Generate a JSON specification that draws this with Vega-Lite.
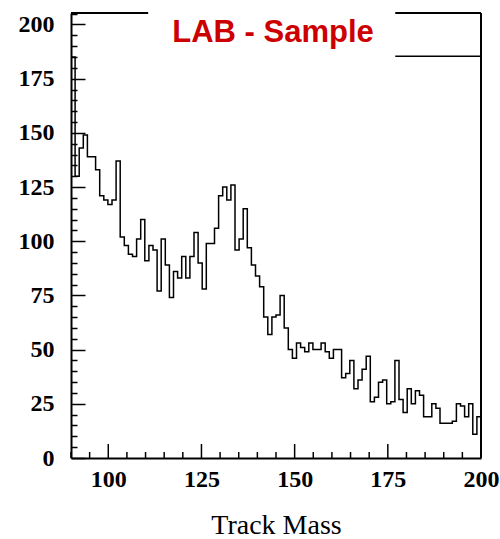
{
  "$schema": "https://vega.github.io/schema/vega-lite/v6.json",
  "width": 410,
  "height": 445,
  "autosize": {"type": "none"},
  "padding": {"left": 71, "top": 13, "right": 19, "bottom": 81},
  "background": "white",
  "view": {"stroke": null},
  "title": {
    "text": "LAB - Sample",
    "color": "#cc0000",
    "font": "Liberation Sans",
    "fontWeight": "bold",
    "fontSize": 31,
    "anchor": "middle",
    "orient": "top",
    "baseline": "alphabetic",
    "offset": -71,
    "dx": -3
  },
  "config": {
    "axis": {
      "gridColor": "black",
      "gridOpacity": 1,
      "gridWidth": 1.5,
      "domainColor": "black",
      "domainWidth": 2,
      "labelFont": "Liberation Serif",
      "labelFontWeight": "bold",
      "labelFontSize": 24,
      "labelColor": "black",
      "labelFlush": false,
      "labelOverlap": false,
      "titleFont": "Liberation Serif",
      "titleFontWeight": "normal",
      "titleFontSize": 28,
      "titleColor": "black"
    }
  },
  "resolve": {"axis": {"x": "independent", "y": "independent"}},
  "data": {
    "values": [
      {"lo": 90, "hi": 91.1, "n": 185},
      {"lo": 91.1, "hi": 92.2, "n": 130},
      {"lo": 92.2, "hi": 93.3, "n": 143},
      {"lo": 93.3, "hi": 94.4, "n": 149},
      {"lo": 94.4, "hi": 95.5, "n": 139},
      {"lo": 95.5, "hi": 96.6, "n": 139},
      {"lo": 96.6, "hi": 97.7, "n": 133},
      {"lo": 97.7, "hi": 98.8, "n": 121},
      {"lo": 98.8, "hi": 99.9, "n": 119},
      {"lo": 99.9, "hi": 101, "n": 117},
      {"lo": 101, "hi": 102.1, "n": 119},
      {"lo": 102.1, "hi": 103.2, "n": 137},
      {"lo": 103.2, "hi": 104.3, "n": 102},
      {"lo": 104.3, "hi": 105.4, "n": 98},
      {"lo": 105.4, "hi": 106.5, "n": 94},
      {"lo": 106.5, "hi": 107.6, "n": 93},
      {"lo": 107.6, "hi": 108.7, "n": 101},
      {"lo": 108.7, "hi": 109.8, "n": 110},
      {"lo": 109.8, "hi": 110.9, "n": 91},
      {"lo": 110.9, "hi": 112, "n": 98},
      {"lo": 112, "hi": 113.1, "n": 96},
      {"lo": 113.1, "hi": 114.2, "n": 77},
      {"lo": 114.2, "hi": 115.3, "n": 101},
      {"lo": 115.3, "hi": 116.4, "n": 89},
      {"lo": 116.4, "hi": 117.5, "n": 74},
      {"lo": 117.5, "hi": 118.6, "n": 86},
      {"lo": 118.6, "hi": 119.7, "n": 83},
      {"lo": 119.7, "hi": 120.8, "n": 93},
      {"lo": 120.8, "hi": 121.9, "n": 83},
      {"lo": 121.9, "hi": 123, "n": 93},
      {"lo": 123, "hi": 124.1, "n": 104},
      {"lo": 124.1, "hi": 125.2, "n": 90},
      {"lo": 125.2, "hi": 126.3, "n": 78},
      {"lo": 126.3, "hi": 127.4, "n": 99},
      {"lo": 127.4, "hi": 128.5, "n": 99},
      {"lo": 128.5, "hi": 129.6, "n": 106},
      {"lo": 129.6, "hi": 130.7, "n": 121},
      {"lo": 130.7, "hi": 131.8, "n": 125},
      {"lo": 131.8, "hi": 132.9, "n": 119},
      {"lo": 132.9, "hi": 134, "n": 126},
      {"lo": 134, "hi": 135.1, "n": 96},
      {"lo": 135.1, "hi": 136.2, "n": 101},
      {"lo": 136.2, "hi": 137.3, "n": 115},
      {"lo": 137.3, "hi": 138.4, "n": 97},
      {"lo": 138.4, "hi": 139.5, "n": 89},
      {"lo": 139.5, "hi": 140.6, "n": 84},
      {"lo": 140.6, "hi": 141.7, "n": 79},
      {"lo": 141.7, "hi": 142.8, "n": 65},
      {"lo": 142.8, "hi": 143.9, "n": 57},
      {"lo": 143.9, "hi": 145, "n": 65},
      {"lo": 145, "hi": 146.1, "n": 66},
      {"lo": 146.1, "hi": 147.2, "n": 75},
      {"lo": 147.2, "hi": 148.3, "n": 60},
      {"lo": 148.3, "hi": 149.4, "n": 50},
      {"lo": 149.4, "hi": 150.5, "n": 46},
      {"lo": 150.5, "hi": 151.6, "n": 53},
      {"lo": 151.6, "hi": 152.7, "n": 51},
      {"lo": 152.7, "hi": 153.8, "n": 49},
      {"lo": 153.8, "hi": 154.9, "n": 53},
      {"lo": 154.9, "hi": 156, "n": 50},
      {"lo": 156, "hi": 157.1, "n": 50},
      {"lo": 157.1, "hi": 158.2, "n": 53},
      {"lo": 158.2, "hi": 159.3, "n": 49},
      {"lo": 159.3, "hi": 160.4, "n": 46},
      {"lo": 160.4, "hi": 161.5, "n": 50},
      {"lo": 161.5, "hi": 162.6, "n": 50},
      {"lo": 162.6, "hi": 163.7, "n": 37},
      {"lo": 163.7, "hi": 164.8, "n": 39},
      {"lo": 164.8, "hi": 165.9, "n": 45},
      {"lo": 165.9, "hi": 167, "n": 32},
      {"lo": 167, "hi": 168.1, "n": 36},
      {"lo": 168.1, "hi": 169.2, "n": 41},
      {"lo": 169.2, "hi": 170.3, "n": 47},
      {"lo": 170.3, "hi": 171.4, "n": 26},
      {"lo": 171.4, "hi": 172.5, "n": 28},
      {"lo": 172.5, "hi": 173.6, "n": 35},
      {"lo": 173.6, "hi": 174.7, "n": 36},
      {"lo": 174.7, "hi": 175.8, "n": 25},
      {"lo": 175.8, "hi": 176.9, "n": 26},
      {"lo": 176.9, "hi": 178, "n": 45},
      {"lo": 178, "hi": 179.1, "n": 27},
      {"lo": 179.1, "hi": 180.2, "n": 21},
      {"lo": 180.2, "hi": 181.3, "n": 32},
      {"lo": 181.3, "hi": 182.4, "n": 25},
      {"lo": 182.4, "hi": 183.5, "n": 31},
      {"lo": 183.5, "hi": 184.6, "n": 29},
      {"lo": 184.6, "hi": 185.7, "n": 19},
      {"lo": 185.7, "hi": 186.8, "n": 19},
      {"lo": 186.8, "hi": 187.9, "n": 25},
      {"lo": 187.9, "hi": 189, "n": 23},
      {"lo": 189, "hi": 190.1, "n": 16},
      {"lo": 190.1, "hi": 191.2, "n": 16},
      {"lo": 191.2, "hi": 192.3, "n": 16},
      {"lo": 192.3, "hi": 193.4, "n": 17},
      {"lo": 193.4, "hi": 194.5, "n": 25},
      {"lo": 194.5, "hi": 195.6, "n": 24},
      {"lo": 195.6, "hi": 196.7, "n": 19},
      {"lo": 196.7, "hi": 197.8, "n": 25},
      {"lo": 197.8, "hi": 198.9, "n": 11},
      {"lo": 198.9, "hi": 200, "n": 19}
    ]
  },
  "layer": [
    {
      "transform": [{"fold": ["lo", "hi"], "as": ["edge", "m"]}],
      "mark": {"type": "line", "color": "black", "strokeWidth": 1.5, "interpolate": "linear"},
      "encoding": {
        "x": {
          "field": "m",
          "type": "quantitative",
          "scale": {"domain": [90, 200], "nice": false, "zero": false},
          "axis": {
            "orient": "bottom",
            "values": [100, 125, 150, 175, 200],
            "grid": false,
            "ticks": false,
            "labelPadding": 9,
            "title": "Track Mass",
            "titlePadding": 20
          }
        },
        "y": {
          "field": "n",
          "type": "quantitative",
          "scale": {"domain": [0, 205.3], "nice": false, "zero": true},
          "axis": {
            "orient": "left",
            "values": [0, 5, 10, 15, 20, 25, 30, 35, 40, 45, 50, 55, 60, 65, 70, 75, 80, 85, 90, 95, 100, 105, 110, 115, 120, 125, 130, 135, 140, 145, 150, 155, 160, 165, 170, 175, 180, 185, 190, 195, 200, 205],
            "labelExpr": "datum.value % 25 === 0 ? datum.label : ''",
            "grid": true,
            "ticks": false,
            "gridDash": {"condition": {"test": "datum.value % 25 === 0", "value": [14, 1000]}, "value": [6, 1000]},
            "labelPadding": 17,
            "title": null
          }
        },
        "order": [
          {"field": "m", "type": "quantitative"},
          {"field": "edge", "type": "nominal"}
        ]
      }
    },
    {
      "data": {"values": [{"t": 100}, {"t": 125}, {"t": 150}, {"t": 175}, {"t": 200}]},
      "mark": {"type": "rule", "color": "black", "strokeWidth": 1.5},
      "encoding": {
        "x": {"field": "t", "type": "quantitative", "axis": null},
        "y": {"datum": 0, "type": "quantitative", "axis": null},
        "y2": {"datum": 6.46}
      }
    },
    {
      "data": {"values": [{"t": 90}, {"t": 95}, {"t": 105}, {"t": 110}, {"t": 115}, {"t": 120}, {"t": 130}, {"t": 135}, {"t": 140}, {"t": 145}, {"t": 155}, {"t": 160}, {"t": 165}, {"t": 170}, {"t": 180}, {"t": 185}, {"t": 190}, {"t": 195}]},
      "mark": {"type": "rule", "color": "black", "strokeWidth": 1.5},
      "encoding": {
        "x": {"field": "t", "type": "quantitative", "axis": null},
        "y": {"datum": 0, "type": "quantitative", "axis": null},
        "y2": {"datum": 2.77}
      }
    },
    {
      "data": {"values": [{}]},
      "mark": {"type": "rule", "color": "black", "strokeWidth": 2},
      "encoding": {
        "x": {"datum": 200, "type": "quantitative", "axis": null},
        "y": {"datum": 0, "type": "quantitative", "axis": null},
        "y2": {"datum": 205.3}
      }
    },
    {
      "data": {"values": [{}]},
      "mark": {"type": "rule", "color": "black", "strokeWidth": 2},
      "encoding": {
        "x": {"datum": 90, "type": "quantitative", "axis": null},
        "x2": {"datum": 110.7},
        "y": {"datum": 205.3, "type": "quantitative", "axis": null}
      }
    },
    {
      "data": {"values": [{}]},
      "mark": {"type": "rule", "color": "black", "strokeWidth": 2},
      "encoding": {
        "x": {"datum": 177, "type": "quantitative", "axis": null},
        "x2": {"datum": 200},
        "y": {"datum": 205.3, "type": "quantitative", "axis": null}
      }
    },
    {
      "data": {"values": [{}]},
      "mark": {"type": "rule", "color": "black", "strokeWidth": 1.5},
      "encoding": {
        "x": {"datum": 177, "type": "quantitative", "axis": null},
        "x2": {"datum": 200},
        "y": {"datum": 185.4, "type": "quantitative", "axis": null}
      }
    }
  ]
}
